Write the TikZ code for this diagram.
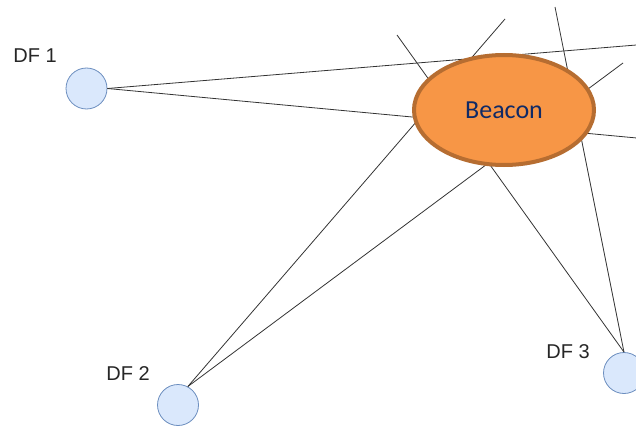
\documentclass[tikz,border=0pt]{standalone}
\usepackage{fontspec}
\setmainfont{Liberation Sans}
\newfontfamily\beaconfont{Carlito}
\usetikzlibrary{shapes.geometric}
\definecolor{dffill}{HTML}{DAE8FC}
\definecolor{dfdraw}{HTML}{6C8EBF}
\definecolor{beaconfill}{HTML}{F79646}
\definecolor{beacondraw}{HTML}{B66D31}
\definecolor{beacontext}{HTML}{102A66}
\definecolor{raycol}{HTML}{333333}
\begin{document}
\begin{tikzpicture}[x=1pt,y=-1pt,
  finder/.style={circle, fill=dffill, draw=dfdraw, line width=0.8pt,
                 minimum size=41pt, inner sep=0pt},
  dflabel/.style={font=\fontsize{20}{20}\selectfont, text=black!85, inner sep=0pt},
  ray/.style={draw=raycol, line width=0.8pt},
  beaconshape/.style={ellipse, fill=beaconfill, draw=beacondraw, line width=4pt,
                      minimum width=180pt, minimum height=110pt, inner sep=0pt,
                      text=beacontext, font=\beaconfont\fontsize{26}{26}\selectfont}]
  \useasboundingbox (0,0) rectangle (636,425);
  \clip (0,0) rectangle (636,425);

  % direction finders
  \node[finder] (df1) at (86.5,88.5) {};
  \node[finder] (df2) at (178,405) {};
  \node[finder] (df3) at (624,373) {};
  \node[dflabel] (l1) at (35,56) {DF 1};
  \node[dflabel] (l2) at (128,374) {DF 2};
  \node[dflabel] (l3) at (568,352) {DF 3};

  % free ends of the bearing lines
  \coordinate (a1) at (640,44.7);
  \coordinate (a2) at (640,138.3);
  \coordinate (b1) at (505,19);
  \coordinate (b2) at (623,63);
  \coordinate (c1) at (555,7);
  \coordinate (c2) at (397,35);

  % bearing lines
  \draw[ray] (df1.east) -- (a1);
  \draw[ray] (df1.east) -- (a2);
  \draw[ray] (df2.62) -- (b1);
  \draw[ray] (df2.62) -- (b2);
  \draw[ray] (df3.north) -- (c1);
  \draw[ray] (df3.north) -- (c2);

  % beacon on top of the lines
  \node[beaconshape] (beacon) at (504,110) {Beacon};
\end{tikzpicture}
\end{document}
